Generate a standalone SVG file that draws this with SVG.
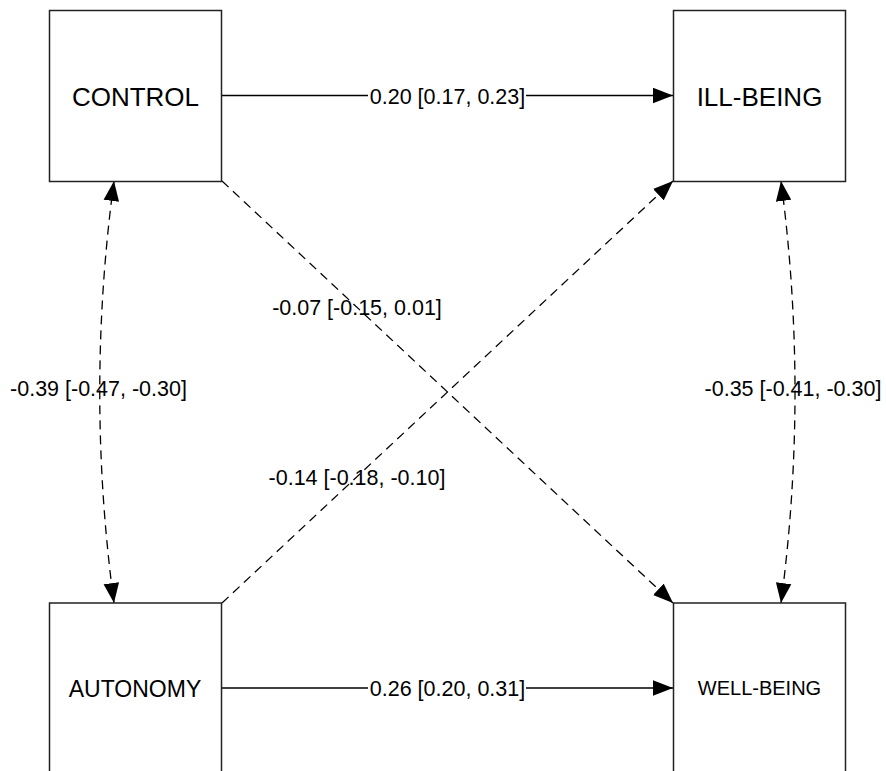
<svg xmlns="http://www.w3.org/2000/svg" width="886" height="771" viewBox="0 0 886 771">
<defs>
<marker id="ah" markerUnits="userSpaceOnUse" markerWidth="20" markerHeight="16" viewBox="0 0 18 14" refX="18" refY="7" orient="auto-start-reverse">
<path d="M0,0 L18,7 L0,14 z" fill="#000"/>
</marker>
<style>
.box{fill:#fff;stroke:#222;stroke-width:1.5}
.nl{font-family:"Liberation Sans",Arial,Helvetica,sans-serif;fill:#000;text-anchor:middle}
.el{font-family:"Liberation Sans",Arial,Helvetica,sans-serif;font-size:21.5px;fill:#000;text-anchor:middle}
.solid{fill:none;stroke:#000;stroke-width:1.4}
.dash{fill:none;stroke:#000;stroke-width:1.3;stroke-dasharray:9 6}
</style>
</defs>
<rect width="886" height="771" fill="#fff"/>
<g id="connectors">
<path class="solid" d="M222,95.5 L673,95.5" marker-end="url(#ah)"/>
<path class="solid" d="M222,688 L673,688" marker-end="url(#ah)"/>
<path class="dash" d="M222,181 L673,603" marker-end="url(#ah)"/>
<path class="dash" d="M222,603 L673,181" marker-end="url(#ah)"/>
<path class="dash" d="M114,181 Q85.5,392 114,603" marker-start="url(#ah)" marker-end="url(#ah)"/>
<path class="dash" d="M781,181 Q809,392 781,603" marker-start="url(#ah)" marker-end="url(#ah)"/>
<rect x="368" y="84" width="158" height="24" fill="#fff"/>
<rect x="368" y="676" width="158" height="24" fill="#fff"/>
<text class="el" x="447.5" y="103.5">0.20 [0.17, 0.23]</text>
<text class="el" x="447.5" y="696">0.26 [0.20, 0.31]</text>
<text class="el" x="357" y="314.5">-0.07 [-0.15, 0.01]</text>
<text class="el" x="357" y="484.5">-0.14 [-0.18, -0.10]</text>
<text class="el" x="98.5" y="396">-0.39 [-0.47, -0.30]</text>
<text class="el" x="793" y="396">-0.35 [-0.41, -0.30]</text>
</g>
<g id="control">
<rect class="box" x="49.5" y="10.5" width="172" height="171"/>
<text class="nl" x="135.5" y="105.5" font-size="26">CONTROL</text>
</g>
<g id="ill-being">
<rect class="box" x="673.5" y="10.5" width="172" height="171"/>
<text class="nl" x="759.5" y="105.5" font-size="26">ILL-BEING</text>
</g>
<g id="autonomy">
<rect class="box" x="49.5" y="603" width="172" height="171"/>
<text class="nl" x="135" y="697" font-size="23">AUTONOMY</text>
</g>
<g id="well-being">
<rect class="box" x="673.5" y="603" width="172" height="171"/>
<text class="nl" x="759.5" y="695" font-size="20">WELL-BEING</text>
</g>
</svg>
